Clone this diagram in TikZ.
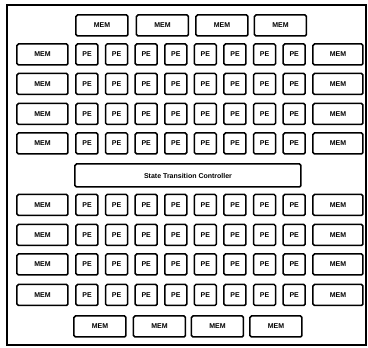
\documentclass[tikz,border=0pt]{standalone}
\usepackage{fontspec}
\setmainfont{Liberation Sans}
\begin{document}
\begin{tikzpicture}[x=1pt,y=-1pt,
  box/.style={draw=black,line width=1.5pt,rounded corners=1.5pt,inner sep=0pt,
    font=\fontsize{7}{8}\selectfont\bfseries},
  pe/.style={box,minimum width=22pt,minimum height=21pt},
  mem/.style={box,minimum width=51pt,minimum height=21pt},
  stc/.style={box,minimum width=226pt,minimum height=23pt},
  frame/.style={draw=black,line width=1.3pt}]
\useasboundingbox (0,0) rectangle (368,348);
\draw[frame] (7,5) rectangle (366,345);
% top memories
\foreach \i/\x in {1/102,2/162.5,3/222,4/280.5}
  \node[mem,minimum width=52pt] (tm\i) at (\x,25.5) {MEM};
% upper PE array
\foreach \r/\y in {1/54.5,2/84,3/114,4/143.5}{
  \node[mem] (lm\r) at (42.5,\y) {MEM};
  \node[mem,minimum width=50pt] (rm\r) at (338,\y) {MEM};
  \foreach \c in {1,...,8}
    \node[pe] (pe\r-\c) at ({87+(\c-1)*29.6},\y) {PE};
}
\node[stc] (stc) at (188,175.5) {State Transition Controller};
% lower PE array
\foreach \r/\y in {5/205,6/235,7/264.5,8/295}{
  \node[mem] (lm\r) at (42.5,\y) {MEM};
  \node[mem,minimum width=50pt] (rm\r) at (338,\y) {MEM};
  \foreach \c in {1,...,8}
    \node[pe] (pe\r-\c) at ({87+(\c-1)*29.6},\y) {PE};
}
% bottom memories
\foreach \i/\x in {1/100,2/159.5,3/217.5,4/276}
  \node[mem,minimum width=52pt] (bm\i) at (\x,326.5) {MEM};
\end{tikzpicture}
\end{document}
